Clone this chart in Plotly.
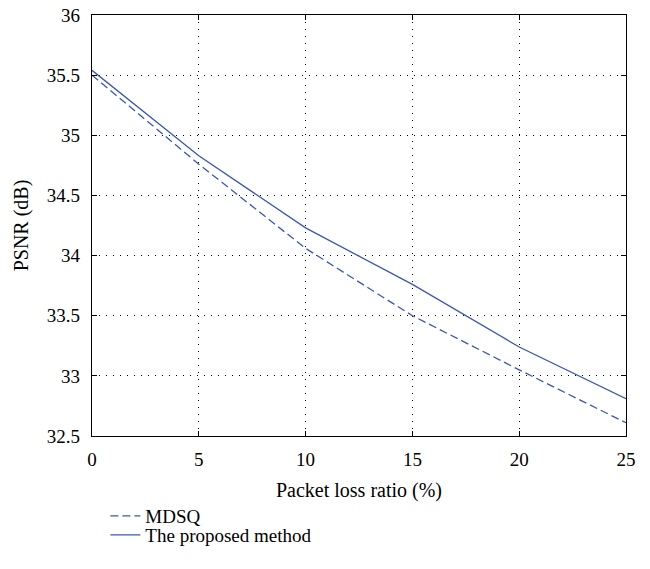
import plotly.graph_objects as go

x_loss = [0, 5, 10, 15, 20, 25]
mdsq = [35.50, 34.76, 34.06, 33.50, 33.05, 32.61]
proposed = [35.54, 34.83, 34.23, 33.76, 33.24, 32.81]

x_ticks = [0, 5, 10, 15, 20, 25]
y_ticks = [32.5, 33, 33.5, 34, 34.5, 35, 35.5, 36]

color = "#3a58b0"
font_family = "Liberation Serif"
fs = 19

fig = go.Figure()
fig.add_trace(go.Scatter(x=x_loss, y=mdsq, mode="lines", name="MDSQ", legend="legend",
                         line=dict(color=color, width=1.3, dash="8px,4px")))
fig.add_trace(go.Scatter(x=x_loss, y=proposed, mode="lines", name="The proposed method", legend="legend2",
                         line=dict(color=color, width=1.3)))

tickfont = dict(size=fs, color="black", family=font_family)
titlefont = dict(size=20, color="black", family=font_family)
axis_common = dict(showline=True, linecolor="black", linewidth=1.2, mirror="ticks",
                   ticks="inside", ticklen=5, tickcolor="black",
                   showgrid=True, gridcolor="black", gridwidth=1, griddash="1px,6px",
                   zeroline=False, tickfont=tickfont, automargin=False)

fig.update_xaxes(range=[0, 25], tickvals=x_ticks, ticktext=[str(v) for v in x_ticks],
                 ticklabelstandoff=6,
                 title=dict(text="Packet loss ratio (%)", font=titlefont, standoff=14),
                 **axis_common)
fig.update_yaxes(range=[32.5, 36], tickvals=y_ticks, ticktext=[("%g" % v) for v in y_ticks],
                 ticklabelstandoff=7,
                 title=dict(text="PSNR (dB)", font=titlefont, standoff=12),
                 **axis_common)

legend_common = dict(xanchor="left", yanchor="top", font=tickfont,
                     bgcolor="rgba(0,0,0,0)", borderwidth=0)
fig.update_layout(
    width=650, height=569,
    margin=dict(l=92, r=24, t=15, b=133),
    plot_bgcolor="white", paper_bgcolor="white",
    font=dict(family=font_family, size=fs, color="black"),
    legend=dict(x=0.025, y=-0.145, **legend_common),
    legend2=dict(x=0.025, y=-0.19, **legend_common),
    showlegend=True,
)

fig.write_html("out.html")
